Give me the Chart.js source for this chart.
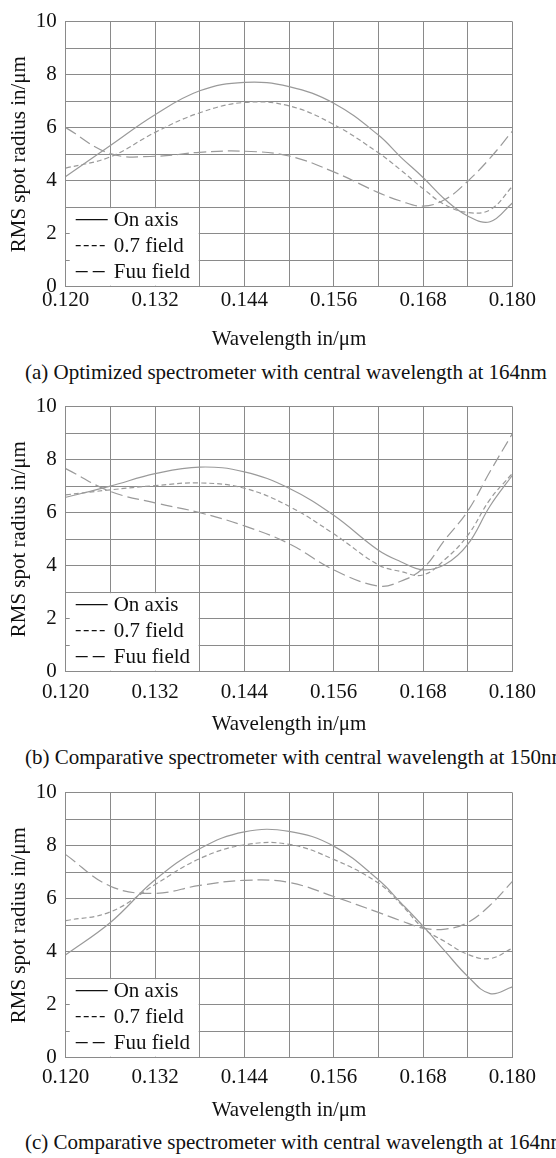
<!DOCTYPE html>
<html>
<head>
<meta charset="utf-8">
<script src="https://cdn.jsdelivr.net/npm/chart.js@4.4.1/dist/chart.umd.min.js"></script>
<style>
    html, body { margin: 0; padding: 0; background: #fff; }
    body { width: 556px; height: 1158px; position: relative; overflow: hidden; }
    .panel { position: absolute; left: 0; width: 556px; height: 352px; }
    .caption {
        position: absolute; left: 25px; white-space: nowrap;
        font: 21px 'Liberation Serif', 'Times New Roman', serif;
        line-height: 24px; color: #111;
    }
</style>
</head>
<body>
<div class="panel" style="top:0px"><canvas id="chartA" width="556" height="352"></canvas></div>
<div class="panel" style="top:385px"><canvas id="chartB" width="556" height="352"></canvas></div>
<div class="panel" style="top:771px"><canvas id="chartC" width="556" height="352"></canvas></div>
<div class="caption" id="captionA" style="top:360px"></div>
<div class="caption" id="captionB" style="top:745px"></div>
<div class="caption" id="captionC" style="top:1130px"></div>

<script>
// Wavelength samples (um) shared by all curves
const wavelengths = [0.120, 0.126, 0.132, 0.138, 0.144, 0.150, 0.156, 0.162, 0.165, 0.168, 0.171, 0.174, 0.177, 0.180];
const xTickValues = [0.120, 0.126, 0.132, 0.138, 0.144, 0.150, 0.156, 0.162, 0.168, 0.174, 0.180];
const yTickValues = [0, 1, 2, 3, 4, 5, 6, 7, 8, 9, 10];
const seriesLabels = ['On axis', '0.7 field', 'Fuu field'];
const captions = [
    '(a) Optimized spectrometer with central wavelength at 164nm',
    '(b) Comparative spectrometer with central wavelength at 150nm',
    '(c) Comparative spectrometer with central wavelength at 164nm'
];

// (a) optimized, 164nm
const onAxisA    = [4.16, 5.33, 6.49, 7.39, 7.71, 7.55, 6.92, 5.72, 4.89, 4.12, 3.28, 2.67, 2.45, 3.16];
const field07A   = [4.47, 4.90, 5.82, 6.56, 6.95, 6.82, 6.12, 5.05, 4.40, 3.70, 3.08, 2.80, 2.90, 3.78];
const fullFieldA = [6.00, 5.02, 4.92, 5.07, 5.11, 4.93, 4.33, 3.55, 3.23, 3.04, 3.30, 3.98, 4.85, 5.87];

// (b) comparative, 150nm
const onAxisB    = [6.58, 7.00, 7.47, 7.72, 7.54, 6.92, 5.90, 4.58, 4.15, 3.84, 4.05, 4.80, 6.25, 7.41];
const field07B   = [6.67, 6.86, 7.02, 7.12, 6.92, 6.24, 5.20, 4.03, 3.78, 3.65, 4.25, 5.14, 6.50, 7.48];
const fullFieldB = [7.66, 6.80, 6.37, 6.00, 5.50, 4.83, 3.84, 3.23, 3.41, 3.90, 5.00, 6.06, 7.55, 8.98];

// (c) comparative, 164nm
const onAxisC    = [3.88, 5.10, 6.71, 7.88, 8.52, 8.54, 7.98, 6.71, 5.85, 4.96, 4.00, 3.07, 2.42, 2.67];
const field07C   = [5.17, 5.50, 6.53, 7.51, 8.03, 8.05, 7.48, 6.59, 5.80, 4.89, 4.37, 3.90, 3.74, 4.13];
const fullFieldC = [7.66, 6.47, 6.20, 6.50, 6.69, 6.61, 6.08, 5.48, 5.17, 4.89, 4.85, 5.10, 5.75, 6.65];

const FONT = "'Liberation Serif', 'Times New Roman', serif";
const GRID = '#8a8a8a';
const CURVE = '#9a9a9a';
const TEXT = '#111';
const dashes = [[], [5, 3], [12, 5]];

// legend box sits in the lower-left cells of each plot
const legendRight = 0.138;
const legendTop = 3;

document.addEventListener('DOMContentLoaded', function() {
    Chart.defaults.font.family = FONT;
    Chart.defaults.color = TEXT;

    makeChart('chartA', [onAxisA, field07A, fullFieldA], 1);
    makeChart('chartB', [onAxisB, field07B, fullFieldB], 8);
    makeChart('chartC', [onAxisC, field07C, fullFieldC], 7);

    document.getElementById('captionA').textContent = captions[0];
    document.getElementById('captionB').textContent = captions[1];
    document.getElementById('captionC').textContent = captions[2];
});

const legendBox = {
    id: 'legendBox',
    afterDatasetsDraw(chart) {
        const { ctx, chartArea, scales } = chart;
        const right = scales.x.getPixelForValue(legendRight);
        const top = scales.y.getPixelForValue(legendTop);
        const left = chartArea.left;

        ctx.save();
        ctx.fillStyle = '#fff';
        ctx.fillRect(left + 4, top + 1, right - left - 5, chartArea.bottom - top - 2);

        const rows = [67, 41, 15];
        ctx.font = '21px ' + FONT;
        ctx.textBaseline = 'middle';
        ctx.textAlign = 'left';
        seriesLabels.forEach((label, i) => {
            const yy = chartArea.bottom - rows[i];
            ctx.strokeStyle = '#111';
            ctx.lineWidth = 1.2;
            ctx.setLineDash(dashes[i]);
            ctx.beginPath();
            ctx.moveTo(left + 10, yy);
            ctx.lineTo(left + 42, yy);
            ctx.stroke();
            ctx.fillStyle = TEXT;
            ctx.fillText(label, left + 48, yy + 1);
        });
        ctx.restore();
    }
};

function makeChart(canvasId, series, xTickPad) {
    const ctx = document.getElementById(canvasId).getContext('2d');
    return new Chart(ctx, {
        type: 'line',
        data: {
            datasets: series.map((values, i) => ({
                label: seriesLabels[i],
                data: values.map((v, j) => ({ x: wavelengths[j], y: v })),
                borderColor: CURVE,
                borderWidth: 1.2,
                borderDash: dashes[i],
                pointRadius: 0,
                tension: 0.4,
                fill: false
            }))
        },
        options: {
            responsive: false,
            devicePixelRatio: 1,
            animation: false,
            layout: { padding: { top: 16.7, right: 43.6, bottom: 0, left: 0 } },
            plugins: {
                legend: { display: false },
                tooltip: { enabled: false }
            },
            scales: {
                x: {
                    type: 'linear',
                    min: 0.120,
                    max: 0.180,
                    afterBuildTicks: scale => { scale.ticks = xTickValues.map(v => ({ value: v })); },
                    afterFit: scale => { scale.height = 65.3; },
                    grid: { color: GRID, lineWidth: 1, drawTicks: false },
                    border: { color: GRID },
                    ticks: {
                        autoSkip: false,
                        maxRotation: 0,
                        padding: xTickPad,
                        font: { size: 21 },
                        callback: (v, i) => i % 2 === 0 ? v.toFixed(3) : ''
                    },
                    title: {
                        display: true,
                        text: 'Wavelength in/μm',
                        font: { size: 21 },
                        padding: { top: 0, bottom: 0 }
                    }
                },
                y: {
                    min: 0,
                    max: 10,
                    afterBuildTicks: scale => { scale.ticks = yTickValues.map(v => ({ value: v })); },
                    afterFit: scale => { scale.width = 65.7; },
                    grid: { color: GRID, lineWidth: 1, drawTicks: false },
                    border: { color: GRID },
                    ticks: {
                        autoSkip: false,
                        padding: 9,
                        font: { size: 21 },
                        callback: v => v % 2 === 0 ? String(v) : ''
                    },
                    title: {
                        display: true,
                        text: 'RMS spot radius in/μm',
                        font: { size: 21 },
                        padding: { top: 7, bottom: 0 }
                    }
                }
            }
        },
        plugins: [legendBox]
    });
}
</script>
</body>
</html>
